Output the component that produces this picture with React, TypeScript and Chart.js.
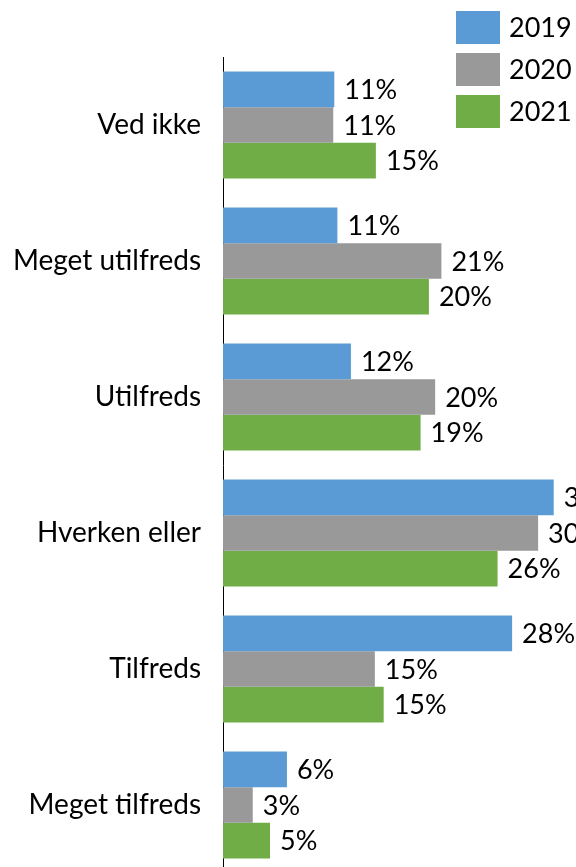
import React, { useEffect, useRef } from "react";
import { Chart, registerables } from "chart.js";

Chart.register(...registerables);

const categories = ["Ved ikke", "Meget utilfreds", "Utilfreds", "Hverken eller", "Tilfreds", "Meget tilfreds"];
const seriesNames = ["2019", "2020", "2021"];
const values2019 = [10.7, 11.0, 12.3, 31.8, 27.8, 6.15];
const values2020 = [10.6, 21.0, 20.4, 30.3, 14.6, 2.86];
const values2021 = [14.7, 19.8, 19.0, 26.4, 15.45, 4.52];
const colors = ["#5B9BD5", "#999999", "#70AD47"];

const FONT_FAMILY = "Lato, 'Noto Sans', sans-serif";
const CAT_FONT_SIZE = 28;
const LABEL_FONT_SIZE = 27;

const labelPlugin = {
  id: "barLabels",
  afterDatasetsDraw(chart: any) {
    const ctx = chart.ctx;
    ctx.save();
    ctx.font = `${LABEL_FONT_SIZE}px ${FONT_FAMILY}`;
    ctx.fillStyle = "#000";
    ctx.textAlign = "left";
    ctx.textBaseline = "middle";
    chart.data.datasets.forEach((ds: any, i: number) => {
      const meta = chart.getDatasetMeta(i);
      meta.data.forEach((bar: any, j: number) => {
        const v = ds.data[j];
        ctx.fillText(Math.round(v) + "%", bar.x + 10, bar.y + 1);
      });
    });
    ctx.restore();
  },
};

const legendPlugin = {
  id: "customLegend",
  afterDraw(chart: any) {
    const ctx = chart.ctx;
    ctx.save();
    ctx.font = `${LABEL_FONT_SIZE}px ${FONT_FAMILY}`;
    ctx.textAlign = "left";
    ctx.textBaseline = "middle";
    chart.data.datasets.forEach((ds: any, i: number) => {
      const top = 11 + i * 42;
      ctx.fillStyle = ds.backgroundColor;
      ctx.fillRect(456, top, 44, 33);
      ctx.fillStyle = "#000";
      ctx.fillText(ds.label, 509, top + 17);
    });
    ctx.restore();
  },
};

export default function App() {
  const ref = useRef<HTMLCanvasElement>(null);
  useEffect(() => {
    if (!ref.current) return;
    const pxPerUnit = 10.4;
    const axisLeft = 223;
    const chart = new Chart(ref.current, {
      type: "bar",
      data: {
        labels: categories,
        datasets: [values2019, values2020, values2021].map((d, i) => ({
          label: seriesNames[i],
          data: d,
          backgroundColor: colors[i],
          barPercentage: 1,
          categoryPercentage: 0.787,
        })),
      },
      options: {
        indexAxis: "y",
        animation: false,
        responsive: false,
        devicePixelRatio: 1,
        layout: { padding: { top: 57, right: 0, bottom: 0, left: 0 } },
        plugins: { legend: { display: false }, tooltip: { enabled: false } },
        scales: {
          x: {
            display: false,
            min: 0,
            max: (576 - axisLeft) / pxPerUnit,
          },
          y: {
            afterFit: (scale: any) => {
              scale.width = axisLeft;
              scale.paddingTop = 0;
              scale.paddingBottom = 0;
            },
            grid: { display: false, drawTicks: false },
            border: { display: true, color: "#000", width: 1 },
            ticks: {
              padding: 22,
              color: "#000",
              font: { family: FONT_FAMILY, size: CAT_FONT_SIZE },
            },
          },
        },
      },
      plugins: [labelPlugin, legendPlugin],
    });
    return () => chart.destroy();
  }, []);
  return (
    <div style={{ position: "absolute", left: 0, top: 0, width: 576, height: 867, overflow: "hidden", background: "#fff" }}>
      <canvas ref={ref} width={576} height={873} style={{ display: "block" }} />
    </div>
  );
}
